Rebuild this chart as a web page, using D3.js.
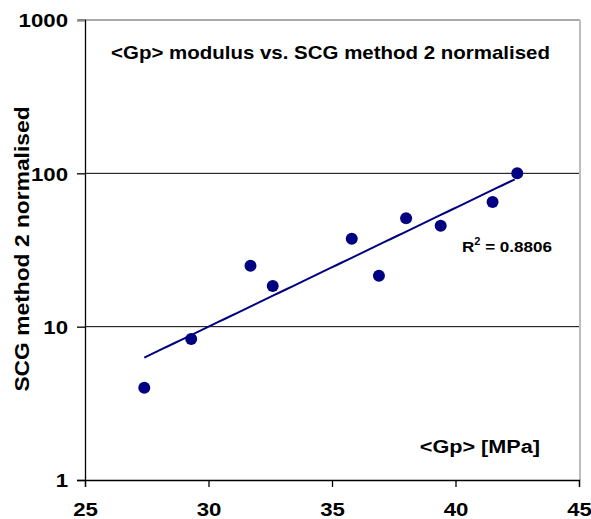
<!DOCTYPE html>
<html>
<head>
<meta charset="utf-8">
<script src="https://cdn.jsdelivr.net/npm/d3@7"></script>
<style>
  body { margin: 0; background: #fff; }
  text { font-family: "Liberation Sans", Arial, sans-serif; font-weight: bold; fill: #000; }
</style>
</head>
<body>
<svg></svg>
<script>
// data
var gpValues = [27.4, 29.3, 31.7, 32.6, 35.8, 36.9, 38.0, 39.4, 41.5, 42.5];
var scgValues = [4.0, 8.3, 25.0, 18.4, 37.5, 21.5, 51.0, 45.5, 65.0, 100.0];
var xTicks = [25, 30, 35, 40, 45];
var yTicks = [1, 10, 100, 1000];
var r2Label = "0.8806";

var svgWidth = 591;
var svgHeight = 519;
var stretch = 1.17; // the fonts in the picture are drawn a bit wide

var xScale = d3.scaleLinear()
	.domain([25, 45])
	.range([85, 579]);

var yScale = d3.scaleLog()
	.domain([1, 1000])
	.range([480, 20]);

var svg = d3.select("svg")
	.attr("width", svgWidth)
	.attr("height", svgHeight);

// gridlines
svg.selectAll("line.grid")
	.data([10, 100])
	.enter()
	.append("line")
	.attr("class", "grid")
	.attr("x1", xScale(25))
	.attr("x2", xScale(45))
	.attr("y1", function(d) { return yScale(d); })
	.attr("y2", function(d) { return yScale(d); })
	.attr("stroke", "#000")
	.attr("stroke-width", 1);

// plot border top and right (grey)
svg.append("line")
	.attr("x1", xScale(25) - 7).attr("x2", xScale(45) + 1)
	.attr("y1", yScale(1000)).attr("y2", yScale(1000))
	.attr("stroke", "#8c8c8c").attr("stroke-width", 1.5);
svg.append("line")
	.attr("x1", xScale(45) + 1).attr("x2", xScale(45) + 1)
	.attr("y1", yScale(1000)).attr("y2", yScale(1))
	.attr("stroke", "#bdbdbd").attr("stroke-width", 2);

// axes
var xAxis = d3.axisBottom(xScale)
	.tickValues(xTicks)
	.tickSize(7)
	.tickPadding(16)
	.tickFormat(d3.format("d"));

var yAxis = d3.axisLeft(yScale)
	.tickValues(yTicks)
	.tickSize(8)
	.tickPadding(9)
	.tickFormat(d3.format("d"));

var gx = svg.append("g")
	.attr("transform", "translate(0," + yScale(1) + ")")
	.call(xAxis);

var gy = svg.append("g")
	.attr("transform", "translate(" + xScale(25) + ",0)")
	.call(yAxis);

[gx, gy].forEach(function(g) {
	g.select(".domain").attr("stroke", "#000").attr("stroke-width", 1.3);
	g.selectAll(".tick line").attr("stroke", "#000").attr("stroke-width", 1.3);
	g.selectAll(".tick text")
		.attr("font-size", 19)
		.attr("font-family", "'Liberation Sans', Arial, sans-serif")
		.attr("font-weight", "bold")
		.attr("fill", "#000")
		.attr("transform", "scale(" + stretch + ",1)");
});
gy.selectAll(".tick text")
	.attr("dy", "0.36em")
	.attr("x", -17 / stretch);
gy.selectAll(".tick").filter(function(d) { return d === 1000; })
	.select("line").attr("stroke", "#8c8c8c");

// exponential trendline: ln(y) = a + b*x
var n = gpValues.length;
var mx = d3.mean(gpValues);
var ly = scgValues.map(function(v) { return Math.log(v); });
var my = d3.mean(ly);
var sxy = 0, sxx = 0;
for (var i = 0; i < n; i++) {
	sxy += (gpValues[i] - mx) * (ly[i] - my);
	sxx += (gpValues[i] - mx) * (gpValues[i] - mx);
}
var b = sxy / sxx;
var a = my - b * mx;
var trendX = d3.range(d3.min(gpValues), d3.max(gpValues) + 0.001, 0.25);

svg.append("path")
	.datum(trendX)
	.attr("fill", "none")
	.attr("stroke", "#000080")
	.attr("stroke-width", 2)
	.attr("d", d3.line()
		.x(function(d) { return xScale(d); })
		.y(function(d) { return yScale(Math.exp(a + b * d)); }));

// points
svg.selectAll("circle")
	.data(gpValues)
	.enter()
	.append("circle")
	.attr("cx", function(d) { return xScale(d); })
	.attr("cy", function(d, i) { return yScale(scgValues[i]); })
	.attr("r", 6)
	.attr("fill", "#000080");

// texts
svg.append("text")
	.attr("transform", "translate(330.5,59) scale(" + stretch + ",1)")
	.attr("text-anchor", "middle")
	.attr("font-size", 17.5)
	.text("<Gp> modulus vs. SCG method 2 normalised");

svg.append("text")
	.attr("transform", "translate(29,249) rotate(-90) scale(" + stretch + ",1)")
	.attr("text-anchor", "middle")
	.attr("font-size", 19.5)
	.text("SCG method 2 normalised");

svg.append("text")
	.attr("transform", "translate(540,453) scale(" + stretch + ",1)")
	.attr("text-anchor", "end")
	.attr("font-size", 18.5)
	.text("<Gp> [MPa]");

var r2 = svg.append("text")
	.attr("transform", "translate(462,252) scale(1.1,1)")
	.attr("font-size", 15.5);
r2.append("tspan").text("R");
r2.append("tspan").attr("font-size", 10).attr("dy", -7).text("2");
r2.append("tspan").attr("dy", 7).text(" = " + r2Label);
</script>
</body>
</html>
